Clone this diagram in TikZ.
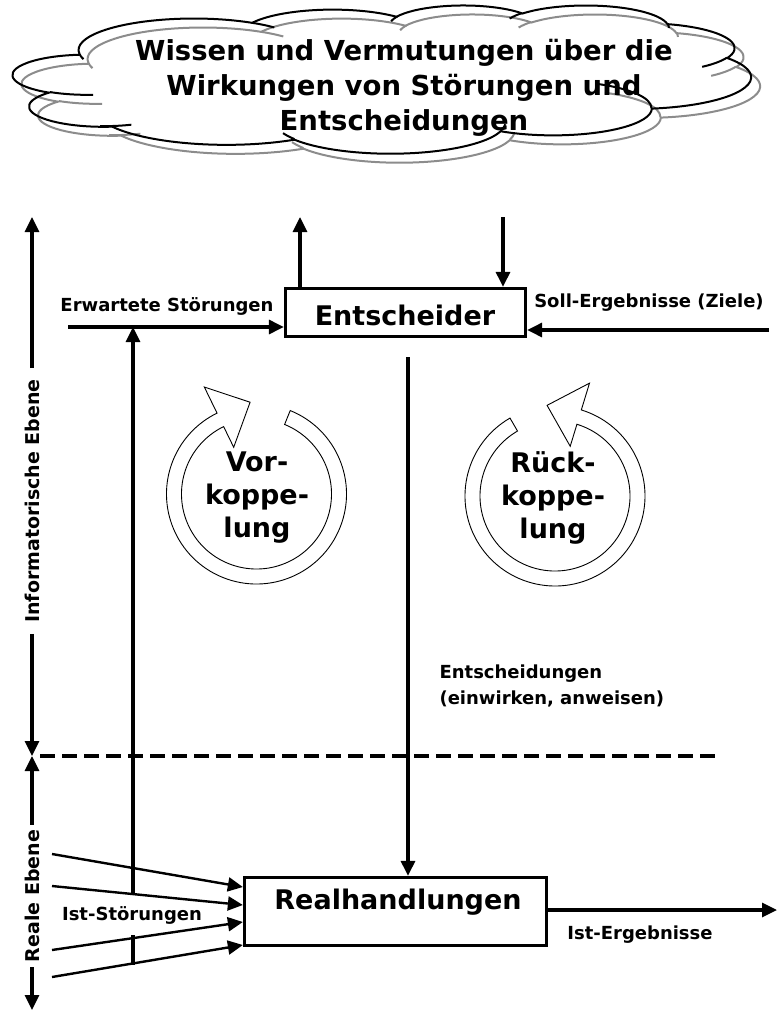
\documentclass[tikz,border=0pt]{standalone}
\usepackage{fontspec}
\setmainfont{DejaVu Sans}
\usetikzlibrary{arrows.meta}
\newcommand\cldarc[4]{arc[x radius=#1, y radius=#2,
  start angle={atan2((#1)*sin(#3),(#2)*cos(#3))},
  delta angle={mod(atan2((#1)*sin((#3)+(#4)),(#2)*cos((#3)+(#4)))-atan2((#1)*sin(#3),(#2)*cos(#3))+720,360)}]}
\newcommand\cldmain{(39.00,143.70)
  \cldarc{67.53}{91.90}{-190.4875}{123.7805}
  \cldarc{53.33}{72.67}{-144.1024}{89.9452}
  \cldarc{43.65}{59.45}{-145.8079}{99.7230}
  \cldarc{48.57}{65.95}{-130.9861}{117.2417}
  \cldarc{53.33}{72.73}{-78.7089}{109.0269}
  \cldarc{67.75}{92.20}{-46.2673}{130.2690}
  \cldarc{57.85}{78.67}{0.6250}{114.0333}
  \cldarc{67.52}{92.15}{22.4516}{115.1726}
  \cldarc{77.20}{105.43}{66.2426}{75.7110}
  \cldarc{43.60}{59.18}{-274.9421}{146.7356}
  \cldarc{43.45}{59.45}{-246.8285}{152.5189} -- cycle}
\newcommand\cldinner{
  (46.93,261.77) \cldarc{43.45}{59.45}{86.7420}{26.4295}
  (69.28,348.99) \cldarc{43.60}{59.18}{73.6105}{18.4000}
  (164.78,390.90) \cldarc{67.52}{92.15}{137.6242}{14.0811}
  (288.27,347.51) \cldarc{67.52}{92.15}{6.4533}{15.9984}
  (341.29,229.54) \cldarc{57.85}{78.67}{-70.2924}{70.9174}
  (417.98,153.54) \cldarc{53.33}{72.73}{30.3180}{27.7515}
  (383.24,54.26) \cldarc{48.57}{65.95}{-13.7443}{14.8589}
  (290.78,39.52) \cldarc{48.57}{65.95}{-149.1815}{18.1954}
  (221.41,47.20) \cldarc{43.65}{59.45}{-163.4943}{17.6864}
  (140.00,51.92) \cldarc{67.53}{91.90}{-66.7070}{12.3194}
  (41.27,157.89) \cldarc{67.53}{91.90}{157.6544}{11.8582}}
\begin{document}
\begin{tikzpicture}[x=1pt,y=1pt,
  arr/.style={line width=3.2pt,-{Triangle[length=15pt,width=14pt]}},
  slant/.style={line width=2.4pt,-{Triangle[length=15pt,width=14pt]}},
  box/.style={draw,line width=3.3pt,inner sep=0pt},
  small/.style={font=\fontsize{18}{26}\selectfont\bfseries},
  axlbl/.style={font=\fontsize{19}{22}\selectfont\bfseries,rotate=90},
  big/.style={font=\fontsize{27}{33}\selectfont\bfseries},
  ring/.style={draw,fill=white,line width=0.9pt}]
\useasboundingbox (0,0) rectangle (778,-1012);

% cloud (shadow, then outline)
\begin{scope}[shift={(22,-14)},x=1.708pt,y=-0.3430pt,draw=black!45,line width=2pt]
  \draw \cldmain;
  \draw \cldinner;
\end{scope}
\begin{scope}[shift={(13,-5)},x=1.708pt,y=-0.3430pt,draw=black,line width=2pt]
  \draw \cldmain;
  \draw \cldinner;
\end{scope}
\node[align=center,font=\fontsize{27.5}{35}\selectfont\bfseries] (title) at (404,-88)
  {Wissen und Vermutungen über die\\Wirkungen von Störungen und\\Entscheidungen};

% boxes
\node[box,minimum width=240pt,minimum height=48pt] (E) at (405.5,-312.5) {};
\node[big] (Et) at (405,-315) {Entscheider};
\node[box,minimum width=302pt,minimum height=68pt] (R) at (395.5,-911.5) {};
\node[big] (Rt) at (398,-902) {Realhandlungen};

% left axis
\coordinate (axtop) at (32,-217);
\coordinate (axmid) at (32,-756);
\coordinate (axbot) at (32,-1010);
\node[axlbl,inner xsep=11pt] (inf) at (32,-501) {Informatorische Ebene};
\node[axlbl,inner xsep=5pt] (real) at (32,-896) {Reale Ebene};
\draw[arr] (inf.east) -- (axtop);
\draw[arr] (inf.west) -- (axmid);
\draw[arr] (real.east) -- (axmid);
\draw[arr] (real.west) -- (axbot);

% dashed separator
\coordinate (d1) at (40,-756);
\coordinate (d2) at (716,-756);
\draw[line width=3.2pt,dash pattern=on 15pt off 7pt] (d1) -- (d2);

% top arrows at Entscheider
\coordinate (uptop) at (300,-217);
\coordinate (dntop) at (503,-217);
\draw[arr] (E.north -| uptop) -- (uptop);
\draw[arr] (dntop) -- (E.north -| dntop);

% Erwartete Stoerungen
\coordinate (hs) at (68,-327);
\node[small] (erw) at (167,-306) {Erwartete Störungen};
\draw[arr] (hs) -- (hs -| E.west);

% Soll-Ergebnisse
\coordinate (ss) at (769,-330);
\node[small] (soll) at (649,-303) {Soll-Ergebnisse (Ziele)};
\draw[arr] (ss) -- (ss -| E.east);

% Ist-Stoerungen vertical feed-forward
\node[small,inner ysep=11pt,inner xsep=2pt] (ist) at (132,-915) {Ist-Störungen};
\coordinate (vf) at (133,-327);
\coordinate (vb) at (133,-965);
\draw[arr] (ist.north -| vf) -- (vf);
\draw[line width=3.2pt] (vb) -- (ist.south -| vb);

% slanted disturbance arrows
\coordinate (s1) at (52,-854);
\coordinate (s2) at (52,-886);
\coordinate (s3) at (52,-950);
\coordinate (s4) at (52,-977);
\draw[slant] (s1) -- ([yshift=24.5pt]R.west);
\draw[slant] (s2) -- ([yshift=6.5pt]R.west);
\draw[slant] (s3) -- ([yshift=-10.5pt]R.west);
\draw[slant] (s4) -- ([yshift=-33.5pt]R.west);

% decisions
\coordinate (dec) at (408,-357);
\draw[arr] (dec) -- (R.north -| dec);
\node[small,align=left,anchor=west] (entl) at (436,-686) {Entscheidungen\\(einwirken, anweisen)};

% output
\coordinate (out) at (777,-910);
\draw[arr] (R.east |- out) -- (out);
\node[small] (isterg) at (640,-935) {Ist-Ergebnisse};

% circular arrows
\coordinate (c1) at (256.5,-494);
\draw[ring] ([shift={(68:75)}]c1) -- ([shift={(68:90)}]c1)
  arc[start angle=68,end angle=-244,radius=90]
  -- ([shift={(-244:119)}]c1) -- ([shift={(-266:92)}]c1) -- ([shift={(-244:52)}]c1)
  -- ([shift={(-244:75)}]c1) arc[start angle=-244,end angle=68,radius=75] -- cycle;
\node[big,align=center] (vor) at (257,-498) {Vor-\\koppe-\\lung};

\coordinate (c2) at (555,-496);
\draw[ring] ([shift={(120:75)}]c2) -- ([shift={(120:90)}]c2)
  arc[start angle=120,end angle=433,radius=90]
  -- ([shift={(433:118)}]c2) -- ([shift={(455:91)}]c2) -- ([shift={(433:52)}]c2)
  -- ([shift={(433:75)}]c2) arc[start angle=433,end angle=120,radius=75] -- cycle;
\node[big,align=center] (rueck) at (553,-498) {Rück-\\koppe-\\lung};
\end{tikzpicture}
\end{document}
